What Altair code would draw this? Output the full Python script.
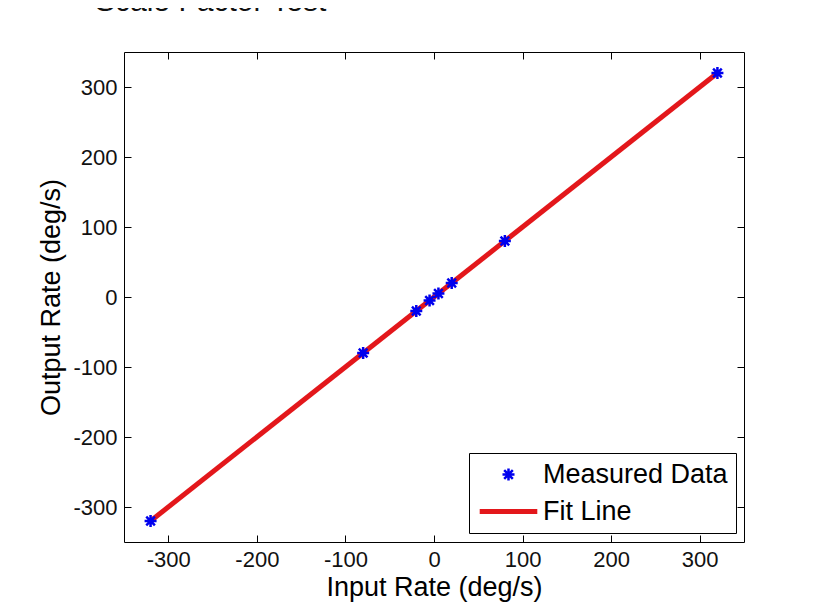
import altair as alt
import pandas as pd

# ---- data ----
input_rate = [-320, -80, -20, -5, 5, 20, 80, 320]
output_rate = [-320, -80, -20, -5, 5, 20, 80, 320]
fit_input = [-320, 320]
fit_output = [-320, 320]
series_names = ["Measured Data", "Fit Line"]
series_colors = ["#0000ee", "#e3171b"]
tick_values = [-300, -200, -100, 0, 100, 200, 300]
axis_domain = [-350, 350]

FONT = "Liberation Sans"
ASTERISK = "M0,-1L0,1M-1,0L1,0M-0.72,-0.72L0.72,0.72M-0.72,0.72L0.72,-0.72"
LINE_SYMBOL = "M-4.8,0L4.8,0"
HYPHEN_LABEL = "datum.value < 0 ? '-' + abs(datum.value) : '' + datum.value"

measured = pd.DataFrame({"input": input_rate, "output": output_rate,
                         "series": ["Measured Data"] * len(input_rate)})
fit = pd.DataFrame({"input": fit_input, "output": fit_output})

xscale = alt.Scale(domain=axis_domain, nice=False, zero=False)
yscale = alt.Scale(domain=axis_domain, nice=False, zero=False)

common_axis = dict(values=tick_values, offset=-7, tickSize=7, domain=False,
                   grid=False, tickColor="#000", tickWidth=1)

x_bottom = alt.Axis(orient="bottom", labelFontSize=22, labelFont=FONT,
                    labelColor="#111", labelPadding=7, labelExpr=HYPHEN_LABEL,
                    title="Input Rate (deg/s)", titleFont=FONT,
                    titleFontSize=27, titleFontWeight="normal",
                    titleColor="#000", titlePadding=4, **common_axis)
y_left = alt.Axis(orient="left", labelFontSize=22, labelFont=FONT,
                  labelColor="#111", labelPadding=7, labelExpr=HYPHEN_LABEL,
                  title="Output Rate (deg/s)", titleFont=FONT,
                  titleFontSize=27, titleFontWeight="normal",
                  titleColor="#000", titlePadding=7, **common_axis)
x_top = alt.Axis(orient="top", labels=False, title=None, **common_axis)
y_right = alt.Axis(orient="right", labels=False, title=None, **common_axis)

legend = alt.Legend(title=None, orient="none", legendX=345, legendY=401,
                    padding=8, strokeColor="#000", fillColor="#fff",
                    labelFontSize=27, labelFont=FONT, labelColor="#000",
                    labelLimit=400, symbolSize=144,
                    symbolOffset=18, labelOffset=21, rowPadding=9)

fit_layer = alt.Chart(fit).mark_line(color="#e3171b", strokeWidth=5).encode(
    x=alt.X("input:Q", scale=xscale, axis=x_bottom),
    y=alt.Y("output:Q", scale=yscale, axis=y_left),
)

points = alt.Chart(measured).mark_point(size=144, filled=False, opacity=1).encode(
    x=alt.X("input:Q", scale=xscale, axis=None),
    y=alt.Y("output:Q", scale=yscale, axis=None),
    color=alt.Color("series:N", scale=alt.Scale(domain=series_names, range=series_colors), legend=legend),
    shape=alt.Shape("series:N", scale=alt.Scale(domain=series_names, range=[ASTERISK, LINE_SYMBOL]), legend=legend),
    strokeWidth=alt.StrokeWidth("series:N", scale=alt.Scale(domain=series_names, range=[2.5, 5]), legend=legend),
)

mirror = alt.Chart(measured).mark_point(opacity=0).encode(
    x=alt.X("input:Q", scale=xscale, axis=x_top),
    y=alt.Y("output:Q", scale=yscale, axis=y_right),
)

chart = alt.layer(fit_layer, points, mirror).resolve_axis(
    x="independent", y="independent"
).properties(
    width=620, height=490,
    title=alt.Title("Scale Factor Test", anchor="start", frame="group", dx=-29,
                    offset=35, fontSize=30, font=FONT, fontWeight="normal",
                    color="#111"),
    autosize=alt.AutoSizeParams(type="none"),
    padding={"left": 116, "top": 44, "right": 20, "bottom": 61},
    background="white",
).configure_view(stroke="#000", strokeWidth=1)

chart.save("out.html", embed_options={"renderer": "svg", "actions": False})
